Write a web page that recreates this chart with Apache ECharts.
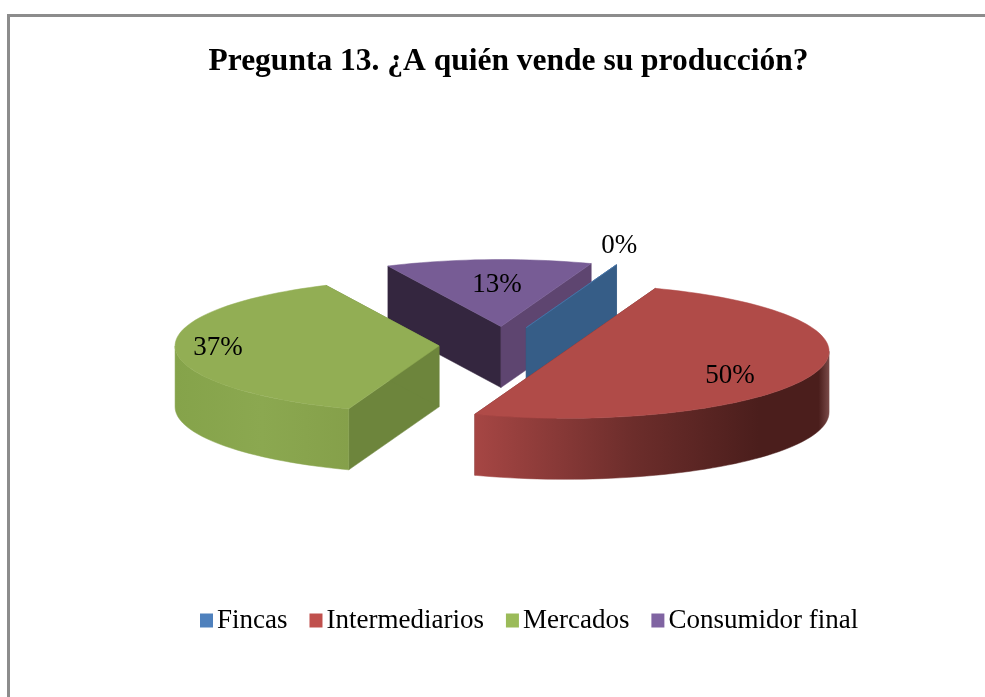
<!DOCTYPE html>
<html>
<head>
<meta charset="utf-8">
<style>
  html, body { margin: 0; padding: 0; background: #fff; }
  #chart { width: 985px; height: 697px; }
</style>
<script src="https://cdn.jsdelivr.net/npm/echarts@6/dist/echarts.min.js"></script>
</head>
<body>
<div id="chart"></div>
<script>
var titleText = "Pregunta 13. ¿A quién vende su producción?";
var categories = ["Fincas", "Intermediarios", "Mercados", "Consumidor final"];
var values = [0, 50, 37.4, 12.6];

var legendColors = ["#4F81BD", "#C0504D", "#9BBB59", "#8064A2"];
var topColors = ["#4A7AB0", "#B04B48", "#92AE54", "#775C95"];
var startFaceColors = ["#365D87", "#6E2E2C", "#6D853C", "#34263F"];
var endFaceColors = ["#365D87", "#6E2E2C", "#6D853C", "#5E4570"];
var rimStops = [
  [[0, "#365D87"], [1, "#365D87"]],
  [[0, "#A64644"], [0.45, "#6C2D2B"], [0.8, "#4B1E1C"], [0.97, "#4B1E1C"], [1, "#7A4A48"]],
  [[0, "#85A34A"], [0.5, "#8BA850"], [1, "#85A04A"]],
  [[0, "#5E4570"], [1, "#5E4570"]]
];
// paint order, the slices nearest the viewer go last
var zOrder = [3, 4, 2, 1];
// label centre relative to the slice apex
var labelOffset = [[93, -82], [165, 25], [-221, 2], [-4, -42]];

// pie geometry
var cx = 504, cy = 345;
var rx = 264, ry = 67, depth = 61, explode = 65, explodeY = 1.12;
var firstAngle = 20;

var total = values.reduce(function (a, b) { return a + b; }, 0);

function sliceAngles(index) {
  var start = firstAngle;
  for (var i = 0; i < index; i++) {
    start += values[i] / total * 360;
  }
  return [start, start + values[index] / total * 360];
}

function project(apex, angle, r, drop) {
  var rad = angle * Math.PI / 180;
  return [
    apex[0] + Math.sin(rad) * rx * r,
    apex[1] - Math.cos(rad) * ry * r + drop
  ];
}

function arcPoints(apex, from, to, drop) {
  var pts = [];
  var steps = Math.max(1, Math.ceil(Math.abs(to - from) / 2));
  for (var i = 0; i <= steps; i++) {
    pts.push(project(apex, from + (to - from) * i / steps, 1, drop));
  }
  return pts;
}

function poly(points, fill) {
  return {
    type: "polygon",
    shape: { points: points },
    style: { fill: fill, stroke: fill, lineWidth: 0.5 }
  };
}

function face(apex, angle, fill) {
  return poly([
    [apex[0], apex[1]],
    project(apex, angle, 1, 0),
    project(apex, angle, 1, depth),
    [apex[0], apex[1] + depth]
  ], fill);
}

function renderSlice(index) {
  var a = sliceAngles(index);
  var mid = (a[0] + a[1]) / 2;
  var midRad = mid * Math.PI / 180;
  // explosion moves along the ground plane, so y shrinks with ry
  var apex = [
    cx + Math.sin(midRad) * explode,
    cy - Math.cos(midRad) * explode * ry / rx * explodeY
  ];
  var children = [
    face(apex, a[0], startFaceColors[index]),
    face(apex, a[1], endFaceColors[index])
  ];

  // only the part of the rim between 3 and 9 o'clock faces the viewer
  var rimFrom = Math.max(a[0], 90);
  var rimTo = Math.min(a[1], 270);
  if (rimTo > rimFrom) {
    var upper = arcPoints(apex, rimFrom, rimTo, 0);
    var lower = arcPoints(apex, rimFrom, rimTo, depth).reverse();
    children.push(poly(upper.concat(lower), new echarts.graphic.LinearGradient(
      0, 0, 1, 0,
      rimStops[index].map(function (s) { return { offset: s[0], color: s[1] }; })
    )));
  }

  children.push(poly([apex].concat(arcPoints(apex, a[0], a[1], 0)), topColors[index]));
  children.push({
    type: "text",
    style: {
      x: apex[0] + labelOffset[index][0],
      y: apex[1] + labelOffset[index][1],
      text: Math.round(values[index]) + "%",
      fill: "#000",
      font: "27px 'Liberation Serif'",
      align: "center",
      verticalAlign: "middle"
    }
  });
  return { type: "group", children: children };
}

var chart = echarts.init(document.getElementById("chart"));
chart.setOption({
  animation: false,
  backgroundColor: "#fff",
  color: legendColors,
  title: {
    text: titleText,
    left: 503.5,
    top: 41,
    textAlign: "center",
    textStyle: {
      fontFamily: "Liberation Serif",
      fontWeight: "bold",
      fontSize: 31.5,
      color: "#000"
    }
  },
  legend: {
    data: categories,
    left: 200,
    top: 607,
    padding: 0,
    icon: "rect",
    itemWidth: 13,
    itemHeight: 14,
    itemGap: 22,
    selectedMode: false,
    textStyle: {
      fontFamily: "Liberation Serif",
      fontSize: 27,
      color: "#000",
      padding: [0, 0, 0, -1]
    }
  },
  graphic: [
    { type: "rect", silent: true, shape: { x: 7, y: 14, width: 978, height: 3 }, style: { fill: "#8C8C8C" } },
    { type: "rect", silent: true, shape: { x: 7, y: 14, width: 3, height: 683 }, style: { fill: "#8C8C8C" } }
  ],
  series: categories.map(function (name, i) {
    return {
      type: "custom",
      name: name,
      coordinateSystem: "none",
      silent: true,
      z: zOrder[i],
      data: [values[i]],
      renderItem: function () {
        return renderSlice(i);
      }
    };
  })
});
</script>
</body>
</html>
